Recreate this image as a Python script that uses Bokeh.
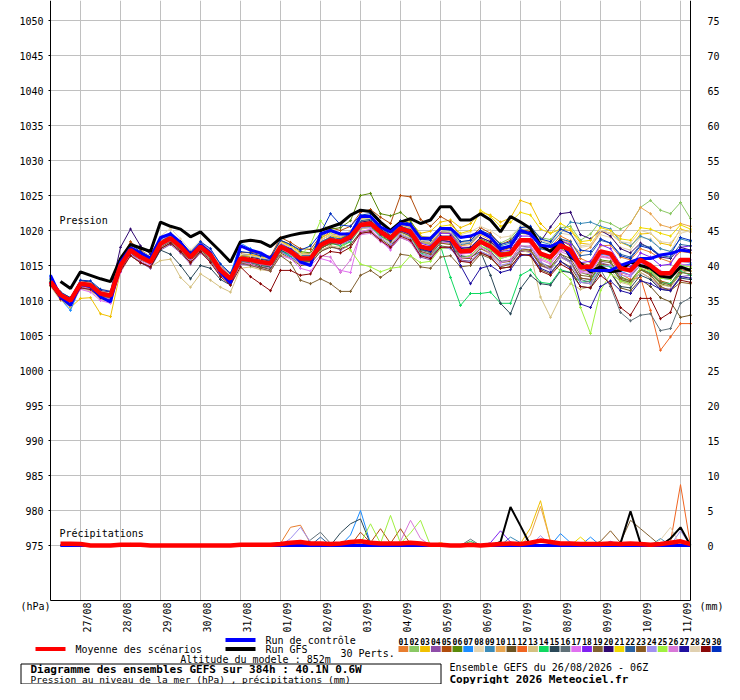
import math
from bokeh.plotting import figure
from bokeh.models import Range1d, LinearAxis, FixedTicker
from bokeh.layouts import column
from bokeh.embed import file_html
from bokeh.resources import INLINE
from bokeh.core.properties import value

NAN = float("nan")
MONO = "DejaVu Sans Mono"

# forecast hours (run 26/08/2026 06Z, step 6h, 0..384h)
hours = list(range(0, 385, 6))
date_hours = [18, 42, 66, 90, 114, 138, 162, 186, 210, 234, 258, 282, 306, 330, 354, 378]
date_labels = ["27/08", "28/08", "29/08", "30/08", "31/08", "01/09", "02/09", "03/09",
               "04/09", "05/09", "06/09", "07/09", "08/09", "09/09", "10/09", "11/09"]
hpa_ticks = [975, 980, 985, 990, 995, 1000, 1005, 1010, 1015, 1020, 1025, 1030, 1035, 1040, 1045, 1050]
mm_ticks = [0, 5, 10, 15, 20, 25, 30, 35, 40, 45, 50, 55, 60, 65, 70, 75]

pert_colors = ["#e87d2e", "#8ac864", "#f0c000", "#8e4ca8", "#b04c0c", "#5a8a0a", "#1a8cff", "#e6d5b0",
               "#3a8ab8", "#e8a550", "#6b5220", "#f06420", "#d4c080", "#10d860", "#2a4858", "#607078",
               "#e070f0", "#8020f0", "#806030", "#300870", "#f0d800", "#2a60a0", "#8a5a20", "#a090f0",
               "#a0f040", "#d878d8", "#2010a0", "#e0d0b0", "#8a0808", "#0030c0"]

# mean, control and GFS sea-level pressure (hPa)
mean_p = [1012.7, 1010.8, 1010.0, 1012.4, 1012.2, 1011.0, 1010.7, 1015.0,
          1017.2, 1016.2, 1015.5, 1018.1, 1018.9, 1017.7, 1016.2, 1017.7,
          1016.5, 1014.3, 1013.1, 1016.0, 1015.8, 1015.5, 1015.3, 1017.7,
          1017.0, 1016.0, 1016.0, 1017.9, 1018.6, 1018.4, 1019.1, 1020.8,
          1021.0, 1019.8, 1018.9, 1020.3, 1019.8, 1017.7, 1017.4, 1018.9,
          1018.9, 1017.0, 1017.1, 1018.4, 1017.7, 1016.5, 1016.7, 1018.6,
          1018.6, 1016.7, 1016.2, 1017.9, 1017.2, 1014.8, 1014.8, 1017.0,
          1016.7, 1014.6, 1014.3, 1015.8, 1015.0, 1013.9, 1013.9, 1015.8, 1015.8]
ctrl_p = [1013.6, 1010.5, 1009.3, 1012.3, 1012.0, 1010.5, 1009.8, 1015.5,
          1017.5, 1016.8, 1016.0, 1019.0, 1019.5, 1018.3, 1016.5, 1018.0,
          1016.8, 1014.0, 1012.5, 1017.8, 1017.2, 1016.8, 1016.0, 1017.5,
          1017.3, 1015.5, 1015.0, 1019.5, 1020.0, 1019.5, 1019.5, 1022.0,
          1022.0, 1020.5, 1019.8, 1021.0, 1020.8, 1018.9, 1018.9, 1020.3,
          1020.3, 1019.0, 1019.2, 1019.8, 1019.0, 1017.4, 1017.8, 1020.0,
          1019.5, 1017.9, 1017.7, 1018.4, 1016.5, 1015.0, 1014.3, 1014.3,
          1014.3, 1015.0, 1015.5, 1016.0, 1016.0, 1016.5, 1016.7, 1017.2, 1017.0]
gfs_p = [NAN, 1012.7, 1011.7, 1014.1, 1013.6, 1013.1, 1012.7, 1016.0,
         1018.0, 1017.5, 1017.0, 1021.2, 1020.6, 1020.2, 1019.1, 1019.8,
         1018.4, 1017.0, 1015.5, 1018.4, 1018.6, 1018.4, 1017.7, 1018.9,
         1019.3, 1019.6, 1019.8, 1020.0, 1020.5, 1021.0, 1022.2, 1022.9,
         1022.7, 1021.2, 1020.0, 1021.2, 1021.7, 1021.0, 1021.5, 1023.4,
         1023.4, 1021.5, 1021.5, 1022.4, 1021.5, 1019.8, 1022.0, 1021.2,
         1020.3, 1017.9, 1017.0, 1018.6, 1016.2, 1015.3, 1014.1, 1014.8,
         1014.1, 1014.3, 1015.5, 1015.0, 1014.6, 1013.5, 1013.3, 1014.8, 1014.3]

# 30 perturbations (hPa)
p01 = [1012.5, 1010.5, 1009.8, 1012.8, 1012.6, 1011.4, 1010.9, 1015.6,
       1017.8, 1016.6, 1015.9, 1018.5, 1019.2, 1018.0, 1016.8, 1018.0,
       1016.9, 1014.8, 1013.6, 1016.3, 1016.5, 1016.4, 1015.9, 1018.6,
       1017.6, 1016.5, 1016.3, 1018.8, 1019.9, 1019.4, 1019.8, 1021.6,
       1021.9, 1020.6, 1019.2, 1021.0, 1020.9, 1018.6, 1018.0, 1019.8,
       1019.5, 1017.8, 1018.3, 1019.6, 1018.9, 1017.0, 1017.5, 1019.8,
       1020.1, 1018.0, 1017.6, 1019.2, 1018.5, 1016.0, 1015.4, 1017.8,
       1017.9, 1016.2, 1015.8, 1017.4, 1016.9, 1016.0, 1015.5, 1017.0, 1016.8]
p02 = [1013.0, 1011.2, 1010.4, 1012.0, 1011.9, 1010.8, 1010.2, 1014.6,
       1016.8, 1015.8, 1015.3, 1017.9, 1018.4, 1017.4, 1015.8, 1017.2,
       1016.0, 1014.0, 1012.8, 1015.6, 1015.6, 1015.0, 1014.8, 1017.2,
       1016.6, 1015.6, 1015.8, 1017.6, 1018.0, 1018.3, 1019.0, 1020.2,
       1020.8, 1019.9, 1019.0, 1020.6, 1020.1, 1018.3, 1018.0, 1019.6,
       1019.8, 1018.4, 1018.6, 1020.0, 1019.2, 1018.2, 1018.9, 1020.6,
       1020.5, 1019.0, 1018.7, 1020.4, 1020.6, 1018.6, 1019.5, 1021.4,
       1021.0, 1020.2, 1021.0, 1023.3, 1024.3, 1022.9, 1022.4, 1024.0, 1021.7]
p03 = [1012.2, 1010.2, 1009.0, 1010.3, 1010.4, 1008.1, 1007.7, 1014.2,
       1017.0, 1016.4, 1015.2, 1018.2, 1019.3, 1018.4, 1016.6, 1018.2,
       1017.0, 1015.0, 1013.6, 1016.6, 1016.6, 1016.2, 1016.0, 1018.5,
       1017.8, 1016.8, 1016.7, 1018.9, 1019.6, 1019.2, 1019.9, 1021.7,
       1021.8, 1020.5, 1019.6, 1021.4, 1021.2, 1019.6, 1019.9, 1021.2,
       1021.5, 1020.4, 1021.0, 1022.6, 1022.2, 1021.2, 1021.8, 1024.3,
       1023.8, 1021.0, 1019.6, 1020.2, 1020.0, 1018.2, 1018.0, 1020.0,
       1019.6, 1018.3, 1017.7, 1019.5, 1019.6, 1018.2, 1017.9, 1020.2, 1019.8]
p04 = [1012.4, 1010.3, 1009.4, 1011.8, 1011.5, 1010.4, 1010.0, 1014.4,
       1016.6, 1015.4, 1014.6, 1017.2, 1018.0, 1016.8, 1015.2, 1016.8,
       1015.6, 1013.6, 1012.4, 1015.2, 1015.0, 1014.8, 1014.6, 1017.0,
       1016.2, 1015.2, 1015.4, 1017.0, 1017.8, 1017.2, 1018.0, 1019.6,
       1019.8, 1018.6, 1017.4, 1019.0, 1018.4, 1016.2, 1015.8, 1017.6,
       1017.4, 1015.8, 1015.6, 1017.0, 1016.4, 1015.0, 1015.2, 1017.0,
       1017.0, 1015.0, 1014.4, 1016.3, 1015.6, 1013.2, 1013.0, 1015.4,
       1015.0, 1012.8, 1012.4, 1014.0, 1013.2, 1011.8, 1011.6, 1013.4, 1013.6]
p05 = [1012.9, 1011.0, 1010.2, 1012.6, 1012.5, 1011.3, 1011.2, 1015.8,
       1018.4, 1017.2, 1016.3, 1018.8, 1019.4, 1018.2, 1016.9, 1018.3,
       1017.0, 1014.9, 1013.8, 1016.8, 1016.9, 1016.6, 1016.3, 1019.0,
       1018.3, 1017.4, 1017.3, 1019.2, 1020.4, 1020.0, 1020.6, 1022.6,
       1023.0, 1021.9, 1021.0, 1025.0, 1024.8, 1021.6, 1020.6, 1022.0,
       1021.2, 1019.2, 1019.0, 1020.4, 1019.6, 1018.0, 1018.6, 1020.2,
       1019.8, 1017.6, 1017.0, 1018.6, 1017.8, 1015.4, 1015.0, 1017.0,
       1016.4, 1014.0, 1013.6, 1015.0, 1014.2, 1012.8, 1012.4, 1014.4, 1014.2]
p06 = [1012.6, 1010.6, 1009.7, 1012.2, 1012.0, 1010.9, 1010.6, 1015.2,
       1017.4, 1016.4, 1015.8, 1018.4, 1019.0, 1017.8, 1016.4, 1017.9,
       1016.8, 1014.6, 1013.4, 1016.4, 1016.2, 1016.0, 1015.9, 1018.6,
       1018.0, 1017.0, 1016.8, 1019.0, 1020.2, 1020.4, 1021.4, 1025.0,
       1025.3, 1022.4, 1022.1, 1022.6, 1021.4, 1019.2, 1018.6, 1020.0,
       1019.8, 1017.6, 1017.4, 1018.8, 1018.2, 1016.8, 1017.0, 1018.8,
       1018.2, 1016.4, 1015.8, 1017.4, 1016.6, 1014.0, 1013.6, 1015.8,
       1015.6, 1013.4, 1012.8, 1014.4, 1013.8, 1012.4, 1012.0, 1013.8, 1014.6]
p07 = [1013.6, 1010.2, 1008.6, 1012.0, 1011.8, 1010.4, 1010.0, 1015.4,
       1017.6, 1016.8, 1016.2, 1018.7, 1019.4, 1018.3, 1016.7, 1018.4,
       1017.2, 1015.2, 1013.8, 1018.2, 1017.4, 1016.6, 1015.8, 1017.2,
       1016.2, 1015.4, 1015.6, 1018.2, 1018.8, 1018.8, 1019.8, 1021.4,
       1021.4, 1020.0, 1018.9, 1020.2, 1019.6, 1017.4, 1017.0, 1018.6,
       1018.8, 1016.8, 1016.8, 1018.2, 1017.2, 1016.0, 1016.4, 1018.4,
       1018.6, 1016.4, 1016.0, 1017.8, 1017.0, 1014.4, 1014.2, 1016.6,
       1016.4, 1014.2, 1013.6, 1015.4, 1014.8, 1013.2, 1013.0, 1015.0, 1015.2]
p08 = [1012.6, 1010.9, 1010.3, 1012.9, 1012.6, 1011.6, 1011.4, 1015.4,
       1017.6, 1017.0, 1016.4, 1019.2, 1020.3, 1018.8, 1017.2, 1018.6,
       1017.2, 1014.6, 1013.4, 1016.2, 1016.0, 1015.9, 1015.7, 1018.0,
       1017.2, 1016.4, 1016.6, 1018.4, 1019.0, 1018.8, 1019.4, 1021.0,
       1021.2, 1020.2, 1019.6, 1020.8, 1020.4, 1018.6, 1018.8, 1020.2,
       1020.4, 1019.4, 1019.8, 1020.6, 1020.0, 1019.0, 1019.2, 1020.6,
       1020.4, 1018.8, 1018.2, 1019.6, 1019.4, 1017.6, 1017.8, 1019.4,
       1019.0, 1017.6, 1017.2, 1019.0, 1018.8, 1017.4, 1017.0, 1019.6, 1020.0]
p09 = [1012.8, 1010.6, 1009.6, 1012.2, 1012.0, 1010.8, 1010.4, 1014.8,
       1017.0, 1016.0, 1015.4, 1017.8, 1018.6, 1017.4, 1015.8, 1017.4,
       1016.2, 1014.0, 1012.8, 1015.8, 1015.6, 1015.2, 1015.0, 1017.4,
       1016.8, 1015.8, 1015.8, 1017.8, 1018.6, 1018.6, 1019.2, 1021.0,
       1021.2, 1020.0, 1019.2, 1020.6, 1020.2, 1018.4, 1018.2, 1019.8,
       1019.8, 1018.0, 1018.2, 1019.6, 1019.0, 1017.8, 1018.2, 1020.0,
       1020.2, 1018.4, 1018.0, 1019.6, 1021.2, 1021.0, 1021.2, 1020.6,
       1020.2, 1018.4, 1017.8, 1019.2, 1018.6, 1017.4, 1017.0, 1018.8, 1018.4]
p10 = [1012.4, 1010.6, 1009.9, 1012.5, 1012.4, 1011.2, 1011.0, 1015.2,
       1017.4, 1016.2, 1015.6, 1018.2, 1019.0, 1017.9, 1016.4, 1017.8,
       1016.6, 1014.4, 1013.2, 1016.0, 1015.9, 1015.6, 1015.4, 1017.9,
       1017.2, 1016.2, 1016.2, 1018.2, 1019.2, 1019.0, 1019.6, 1021.2,
       1021.4, 1020.3, 1019.4, 1020.8, 1020.4, 1018.4, 1018.2, 1019.8,
       1019.6, 1017.8, 1018.0, 1019.4, 1018.6, 1017.2, 1017.6, 1019.6,
       1019.4, 1017.6, 1017.0, 1018.8, 1018.2, 1016.8, 1017.6, 1019.8,
       1019.6, 1019.2, 1021.0, 1023.3, 1022.4, 1020.8, 1020.4, 1021.0, 1020.6]
p11 = [1012.2, 1010.4, 1009.6, 1012.0, 1011.8, 1010.6, 1010.2, 1014.4,
       1016.4, 1015.4, 1014.8, 1017.4, 1018.2, 1017.0, 1015.4, 1017.0,
       1015.8, 1013.8, 1012.6, 1015.4, 1015.2, 1014.8, 1014.4, 1016.8,
       1016.0, 1015.0, 1015.2, 1017.0, 1017.6, 1017.4, 1018.0, 1019.8,
       1020.0, 1018.8, 1017.8, 1019.4, 1018.8, 1016.6, 1016.2, 1017.8,
       1017.6, 1015.6, 1015.6, 1017.0, 1016.2, 1014.6, 1014.8, 1016.6,
       1016.4, 1014.4, 1013.8, 1015.6, 1014.8, 1012.6, 1012.4, 1014.6,
       1014.0, 1011.8, 1011.4, 1013.0, 1012.0, 1010.4, 1009.8, 1007.6, 1007.9]
p12 = [1012.5, 1010.7, 1010.0, 1012.6, 1012.4, 1011.2, 1010.9, 1015.2,
       1017.4, 1016.3, 1015.6, 1018.3, 1019.0, 1017.8, 1016.3, 1017.8,
       1016.6, 1014.4, 1013.2, 1016.2, 1016.0, 1015.7, 1015.5, 1017.8,
       1017.2, 1016.2, 1016.2, 1018.0, 1018.8, 1018.6, 1019.2, 1021.0,
       1021.2, 1020.0, 1019.0, 1020.4, 1019.9, 1017.8, 1017.4, 1019.0,
       1019.0, 1017.2, 1017.2, 1018.6, 1017.8, 1016.6, 1016.8, 1018.6,
       1018.6, 1016.6, 1016.0, 1017.6, 1016.8, 1014.4, 1014.2, 1016.4,
       1016.0, 1013.8, 1013.0, 1013.3, 1008.6, 1002.9, 1004.8, 1006.7, 1006.7]
p13 = [1012.0, 1010.0, 1009.2, 1011.6, 1011.4, 1010.2, 1009.8, 1014.0,
       1016.4, 1015.6, 1014.8, 1015.7, 1015.9, 1013.3, 1011.9, 1013.8,
       1012.9, 1011.9, 1011.2, 1014.6, 1014.8, 1014.4, 1014.2, 1016.6,
       1016.0, 1015.2, 1015.4, 1017.2, 1017.8, 1017.6, 1018.4, 1020.2,
       1020.4, 1019.2, 1018.2, 1019.6, 1019.0, 1017.0, 1016.6, 1018.2,
       1018.0, 1016.2, 1016.0, 1017.4, 1016.6, 1015.0, 1015.2, 1017.2,
       1016.8, 1010.5, 1007.6, 1010.5, 1012.4, 1011.6, 1012.0, 1014.6,
       1014.4, 1012.6, 1012.2, 1014.0, 1013.2, 1012.2, 1012.0, 1014.0, 1014.2]
p14 = [1013.0, 1011.0, 1010.4, 1012.8, 1012.6, 1011.4, 1011.0, 1015.4,
       1017.4, 1016.4, 1015.6, 1018.2, 1019.0, 1017.8, 1016.2, 1017.6,
       1016.4, 1014.2, 1013.0, 1015.8, 1015.6, 1015.2, 1015.0, 1017.2,
       1016.4, 1015.6, 1015.6, 1017.4, 1018.2, 1017.8, 1018.4, 1020.4,
       1020.6, 1019.2, 1018.4, 1019.8, 1019.2, 1016.8, 1016.4, 1017.8,
       1013.3, 1009.3, 1011.0, 1011.0, 1011.2, 1009.6, 1009.6, 1013.6,
       1014.4, 1012.6, 1012.4, 1014.4, 1014.0, 1012.6, 1012.8, 1015.0,
       1014.8, 1013.0, 1012.6, 1014.4, 1014.0, 1012.6, 1012.4, 1014.2, 1013.6]
p15 = [1012.6, 1010.6, 1009.8, 1012.3, 1012.0, 1010.8, 1010.4, 1014.6,
       1016.8, 1015.4, 1014.8, 1017.2, 1016.6, 1015.0, 1013.1, 1015.0,
       1014.6, 1013.0, 1012.2, 1015.6, 1015.4, 1015.0, 1014.8, 1017.2,
       1016.6, 1015.4, 1015.6, 1017.4, 1018.2, 1018.0, 1018.6, 1020.6,
       1020.8, 1019.6, 1018.6, 1020.0, 1019.4, 1017.2, 1017.0, 1018.6,
       1018.4, 1016.4, 1016.2, 1017.0, 1013.6, 1009.6, 1008.1, 1011.7,
       1013.6, 1012.4, 1012.2, 1014.2, 1014.0, 1012.0, 1011.8, 1014.2,
       1014.0, 1012.0, 1011.8, 1013.6, 1013.0, 1011.6, 1011.4, 1013.2, 1013.0]
p16 = [1012.4, 1010.5, 1009.8, 1012.2, 1012.0, 1010.8, 1010.5, 1014.8,
       1017.0, 1016.0, 1015.3, 1017.8, 1018.6, 1017.4, 1015.9, 1017.4,
       1016.2, 1014.0, 1012.8, 1015.6, 1015.4, 1015.1, 1014.9, 1017.4,
       1016.8, 1015.8, 1015.8, 1017.6, 1018.4, 1018.2, 1018.8, 1020.6,
       1020.8, 1019.6, 1018.6, 1020.0, 1019.4, 1017.2, 1016.8, 1018.4,
       1018.2, 1016.2, 1016.4, 1017.8, 1017.0, 1015.6, 1015.8, 1017.8,
       1017.6, 1015.4, 1014.8, 1016.6, 1015.6, 1013.0, 1012.6, 1014.4,
       1012.0, 1008.3, 1007.1, 1007.9, 1008.1, 1005.7, 1006.0, 1009.6, 1010.4]
p17 = [1012.2, 1010.2, 1009.4, 1011.6, 1011.2, 1010.0, 1009.6, 1014.0,
       1016.6, 1015.6, 1015.0, 1017.6, 1018.4, 1017.2, 1015.6, 1017.2,
       1016.0, 1013.8, 1012.6, 1015.4, 1015.2, 1014.6, 1014.2, 1016.4,
       1016.0, 1014.6, 1014.2, 1016.0, 1015.6, 1014.3, 1014.0, 1019.8,
       1020.2, 1018.6, 1017.2, 1019.8, 1019.4, 1017.0, 1016.4, 1018.2,
       1018.4, 1016.6, 1016.8, 1018.2, 1017.4, 1016.0, 1016.4, 1018.4,
       1018.2, 1016.0, 1015.4, 1017.2, 1016.8, 1014.2, 1014.0, 1016.4,
       1016.2, 1014.0, 1013.6, 1015.4, 1014.6, 1013.4, 1013.2, 1015.2, 1015.0]
p18 = [1012.9, 1011.1, 1010.3, 1012.7, 1012.5, 1011.3, 1011.0, 1015.6,
       1017.8, 1016.8, 1016.0, 1018.6, 1019.4, 1018.2, 1016.7, 1018.2,
       1017.0, 1014.8, 1013.5, 1016.4, 1016.3, 1016.0, 1015.8, 1018.2,
       1017.4, 1016.6, 1016.6, 1018.6, 1019.4, 1019.2, 1019.8, 1021.8,
       1022.0, 1020.6, 1019.4, 1021.0, 1020.6, 1018.2, 1017.8, 1019.6,
       1019.6, 1017.6, 1017.6, 1019.0, 1018.4, 1017.0, 1017.2, 1019.2,
       1019.2, 1016.8, 1016.4, 1018.6, 1018.0, 1015.4, 1015.6, 1018.0,
       1017.4, 1015.2, 1014.8, 1016.8, 1016.2, 1015.0, 1015.2, 1017.6, 1017.8]
p19 = [1012.3, 1010.4, 1009.7, 1012.1, 1011.9, 1010.7, 1010.4, 1014.6,
       1016.8, 1015.8, 1015.2, 1017.6, 1018.4, 1017.2, 1015.7, 1017.2,
       1016.0, 1013.8, 1012.6, 1015.4, 1015.0, 1014.6, 1014.2, 1016.4,
       1015.4, 1012.9, 1012.4, 1013.1, 1012.4, 1011.3, 1011.3, 1013.6,
       1014.3, 1013.3, 1014.3, 1016.6, 1016.4, 1014.8, 1014.6, 1016.2,
       1016.4, 1014.8, 1015.0, 1016.6, 1016.0, 1014.8, 1015.2, 1017.2,
       1017.2, 1015.2, 1014.8, 1016.6, 1016.0, 1013.6, 1013.4, 1015.6,
       1015.4, 1013.2, 1012.8, 1014.6, 1013.8, 1012.6, 1012.2, 1014.0, 1013.8]
p20 = [1012.8, 1011.0, 1010.3, 1012.8, 1012.6, 1011.4, 1011.2, 1017.6,
       1020.2, 1017.8, 1016.6, 1019.0, 1019.6, 1018.4, 1016.8, 1018.2,
       1016.8, 1014.6, 1013.4, 1016.4, 1016.2, 1015.9, 1015.6, 1017.8,
       1017.0, 1016.0, 1016.2, 1018.2, 1019.0, 1018.8, 1019.4, 1021.2,
       1021.4, 1020.2, 1019.2, 1020.6, 1020.0, 1017.8, 1017.6, 1019.2,
       1019.2, 1017.4, 1017.6, 1019.0, 1018.4, 1017.2, 1017.6, 1019.6,
       1019.8, 1018.4, 1020.5, 1022.4, 1022.6, 1019.4, 1018.8, 1020.0,
       1019.2, 1017.4, 1016.8, 1018.2, 1017.4, 1016.2, 1016.0, 1017.6, 1017.2]
p21 = [1012.6, 1010.8, 1010.2, 1012.5, 1012.3, 1011.1, 1010.9, 1015.2,
       1017.5, 1016.5, 1015.8, 1018.4, 1019.2, 1018.0, 1016.5, 1018.0,
       1016.8, 1014.6, 1013.4, 1016.4, 1016.3, 1016.1, 1016.0, 1018.4,
       1017.6, 1016.6, 1016.5, 1018.6, 1019.4, 1019.0, 1019.6, 1021.4,
       1021.6, 1020.6, 1019.8, 1021.2, 1021.0, 1019.2, 1019.0, 1020.6,
       1020.8, 1019.6, 1020.0, 1022.9, 1022.0, 1020.6, 1021.2, 1022.6,
       1022.2, 1020.2, 1019.6, 1021.0, 1020.2, 1018.4, 1018.6, 1020.4,
       1020.0, 1018.8, 1018.6, 1020.4, 1020.2, 1019.6, 1019.2, 1020.8, 1020.2]
p22 = [1012.7, 1010.9, 1010.1, 1012.6, 1012.4, 1011.2, 1011.0, 1015.4,
       1017.6, 1016.6, 1015.9, 1018.5, 1019.2, 1018.0, 1016.4, 1018.0,
       1016.7, 1014.5, 1013.3, 1016.6, 1016.4, 1016.0, 1015.7, 1018.0,
       1017.4, 1016.4, 1016.4, 1018.4, 1019.0, 1018.8, 1019.6, 1021.4,
       1021.6, 1020.4, 1019.4, 1021.0, 1020.8, 1018.6, 1018.4, 1020.2,
       1020.0, 1018.2, 1018.4, 1020.0, 1019.2, 1017.6, 1017.8, 1019.6,
       1019.6, 1017.4, 1017.0, 1018.8, 1018.4, 1016.4, 1016.6, 1018.6,
       1018.2, 1016.6, 1016.2, 1018.0, 1017.6, 1016.4, 1016.2, 1018.0, 1017.8]
p23 = [1012.4, 1010.5, 1009.6, 1012.0, 1011.8, 1010.7, 1010.5, 1014.8,
       1017.2, 1016.2, 1015.4, 1018.0, 1018.7, 1017.6, 1016.0, 1017.6,
       1016.4, 1014.2, 1013.0, 1015.9, 1015.6, 1015.4, 1015.1, 1017.4,
       1016.6, 1015.6, 1015.6, 1017.4, 1018.2, 1018.0, 1018.6, 1020.4,
       1020.6, 1019.4, 1018.4, 1019.8, 1019.2, 1017.0, 1016.6, 1018.2,
       1018.0, 1016.0, 1016.0, 1017.4, 1016.8, 1015.4, 1015.6, 1017.4,
       1017.2, 1015.0, 1014.6, 1016.2, 1015.4, 1013.2, 1013.0, 1015.2,
       1015.0, 1013.0, 1012.6, 1014.4, 1013.6, 1012.0, 1011.4, 1012.6, 1012.4]
p24 = [1012.5, 1010.6, 1009.9, 1012.4, 1012.2, 1011.0, 1010.7, 1015.0,
       1017.2, 1016.2, 1015.5, 1018.1, 1018.9, 1017.7, 1016.2, 1017.7,
       1016.5, 1014.3, 1013.1, 1016.0, 1015.8, 1015.5, 1015.3, 1017.7,
       1017.0, 1016.0, 1016.0, 1017.8, 1018.4, 1018.0, 1018.6, 1020.4,
       1020.4, 1019.0, 1018.0, 1019.4, 1018.8, 1016.6, 1016.2, 1017.6,
       1017.4, 1015.6, 1015.6, 1017.0, 1016.4, 1015.0, 1015.4, 1017.4,
       1017.6, 1015.6, 1014.4, 1016.2, 1015.4, 1012.6, 1012.4, 1014.8,
       1015.0, 1013.6, 1013.4, 1015.0, 1014.8, 1013.8, 1013.6, 1015.6, 1015.4]
p25 = [1012.8, 1010.9, 1010.2, 1012.6, 1012.4, 1011.2, 1010.9, 1015.2,
       1017.4, 1016.4, 1015.7, 1018.3, 1019.1, 1017.9, 1016.4, 1017.9,
       1016.7, 1014.5, 1013.3, 1016.2, 1016.0, 1015.7, 1015.5, 1017.4,
       1017.0, 1016.4, 1018.0, 1021.4, 1019.6, 1018.2, 1017.2, 1015.2,
       1014.8, 1014.1, 1014.6, 1014.8, 1016.4, 1015.4, 1015.6, 1017.4,
       1017.6, 1016.0, 1016.4, 1017.8, 1017.2, 1016.0, 1016.4, 1018.4,
       1018.4, 1016.2, 1015.6, 1014.2, 1013.0, 1009.0, 1005.3, 1011.4,
       1013.8, 1012.8, 1012.4, 1014.6, 1014.2, 1013.2, 1013.0, 1015.0, 1014.8]
p26 = [1012.3, 1010.4, 1009.6, 1012.0, 1011.7, 1010.5, 1010.2, 1014.6,
       1016.9, 1015.9, 1015.2, 1017.8, 1018.6, 1017.4, 1015.9, 1017.4,
       1016.2, 1014.0, 1012.9, 1015.8, 1015.6, 1015.2, 1015.0, 1017.4,
       1016.6, 1015.2, 1015.0, 1016.4, 1016.2, 1014.0, 1015.8, 1019.4,
       1019.6, 1018.4, 1017.6, 1019.0, 1018.4, 1016.4, 1016.0, 1017.6,
       1017.6, 1016.0, 1016.2, 1017.6, 1016.8, 1015.4, 1015.8, 1017.8,
       1017.8, 1015.8, 1015.2, 1017.0, 1016.4, 1014.0, 1013.8, 1016.2,
       1016.0, 1014.4, 1014.0, 1015.8, 1015.2, 1014.2, 1014.0, 1016.0, 1015.8]
p27 = [1012.6, 1010.7, 1009.9, 1012.4, 1012.2, 1011.0, 1010.6, 1015.0,
       1017.2, 1016.2, 1015.4, 1018.0, 1018.8, 1017.6, 1016.1, 1017.6,
       1016.4, 1014.2, 1013.0, 1015.9, 1015.7, 1015.4, 1015.2, 1017.6,
       1016.8, 1015.8, 1015.8, 1017.8, 1018.4, 1018.2, 1018.8, 1020.6,
       1020.8, 1019.6, 1018.6, 1020.0, 1019.4, 1017.4, 1017.0, 1018.6,
       1018.4, 1015.0, 1012.4, 1014.6, 1015.0, 1014.0, 1014.4, 1016.4,
       1016.6, 1014.6, 1014.0, 1015.6, 1014.6, 1009.5, 1009.0, 1012.0,
       1012.8, 1011.4, 1011.0, 1012.8, 1012.4, 1011.6, 1011.4, 1013.4, 1013.2]
p28 = [1012.9, 1011.0, 1010.3, 1012.7, 1012.5, 1011.3, 1011.1, 1015.4,
       1017.6, 1016.6, 1015.9, 1018.6, 1019.5, 1018.3, 1016.8, 1018.3,
       1017.1, 1014.9, 1013.6, 1016.6, 1016.4, 1016.1, 1015.9, 1018.3,
       1017.6, 1016.6, 1016.6, 1018.6, 1019.4, 1019.2, 1019.8, 1021.6,
       1021.8, 1020.6, 1019.6, 1021.0, 1020.6, 1018.6, 1018.4, 1020.0,
       1019.8, 1018.2, 1018.4, 1019.8, 1019.2, 1018.0, 1018.4, 1020.2,
       1020.2, 1018.6, 1018.2, 1020.0, 1019.6, 1017.8, 1018.0, 1020.0,
       1019.6, 1018.4, 1018.2, 1020.0, 1019.6, 1018.4, 1018.2, 1020.0, 1019.8]
p29 = [1012.2, 1010.2, 1009.4, 1011.8, 1011.6, 1010.4, 1010.0, 1014.2,
       1016.4, 1015.4, 1014.8, 1017.4, 1018.2, 1017.0, 1015.4, 1017.0,
       1015.4, 1013.4, 1012.2, 1014.8, 1013.4, 1012.4, 1011.4, 1014.3,
       1014.3, 1013.6, 1013.8, 1016.2, 1017.0, 1016.8, 1017.6, 1019.6,
       1019.8, 1018.6, 1017.6, 1019.2, 1018.6, 1016.4, 1016.0, 1017.6,
       1017.6, 1015.6, 1015.4, 1016.8, 1016.2, 1014.6, 1014.8, 1016.6,
       1016.4, 1014.2, 1013.6, 1015.2, 1014.4, 1012.0, 1011.8, 1013.6,
       1012.4, 1009.0, 1007.9, 1010.3, 1010.3, 1007.4, 1008.3, 1012.9, 1012.6]
p30 = [1013.2, 1011.2, 1010.4, 1012.9, 1012.8, 1011.6, 1011.3, 1015.8,
       1018.0, 1017.0, 1016.2, 1018.8, 1019.6, 1018.4, 1016.9, 1018.4,
       1017.4, 1015.2, 1013.9, 1017.0, 1016.8, 1016.4, 1016.2, 1018.6,
       1018.0, 1017.2, 1017.8, 1019.6, 1022.4, 1020.8, 1020.6, 1022.2,
       1022.4, 1021.0, 1019.8, 1021.4, 1021.0, 1018.8, 1018.6, 1020.4,
       1020.2, 1018.4, 1018.6, 1020.0, 1019.4, 1018.0, 1018.4, 1020.4,
       1020.6, 1018.8, 1018.4, 1020.2, 1019.6, 1017.2, 1017.0, 1018.8,
       1018.2, 1016.4, 1016.0, 1017.8, 1017.4, 1016.4, 1016.6, 1019.0, 1018.6]

# 6-hourly precipitation (mm), only non-zero steps, keyed by forecast hour
r01 = {138: 0.3, 144: 2.6, 150: 2.9, 156: 0.3}
r02 = {}
r03 = {282: 0.3, 288: 2.5, 294: 6.4, 300: 0.5}
r04 = {}
r05 = {186: 1.9, 192: 0.4, 198: 2.4, 204: 0.3, 210: 2.4, 216: 0.2}
r06 = {48: 0.3}
r07 = {18: 0.4, 180: 1.5, 186: 5.0, 192: 0.3, 306: 1.7, 312: 0.4, 324: 1.2}
r08 = {}
r09 = {276: 1.2, 282: 0.4, 366: 1.0}
r10 = {288: 1.5, 294: 5.6, 300: 0.6}
r11 = {}
r12 = {372: 0.5, 378: 8.7}
r13 = {}
r14 = {252: 0.6}
r15 = {174: 1.8, 180: 3.1, 186: 3.8, 192: 0.2}
r16 = {156: 0.8, 162: 1.9, 168: 0.3, 252: 0.9}
r17 = {}
r18 = {264: 0.4, 270: 2.1, 276: 0.5, 336: 0.6}
r19 = {342: 0.5, 348: 3.6, 354: 2.4, 360: 1.2}
r20 = {}
r21 = {234: 0.4, 318: 1.2}
r22 = {162: 1.2}
r23 = {330: 0.6, 336: 2.1, 342: 0.4}
r24 = {144: 1.0, 150: 2.6, 156: 0.5, 294: 1.4, 378: 2.1}
r25 = {186: 0.3, 192: 3.1, 198: 0.3, 204: 4.3, 210: 0.3, 216: 1.8, 222: 3.6}
r26 = {210: 0.6, 216: 3.6, 222: 1.0}
r27 = {}
r28 = {366: 0.8, 372: 2.6}
r29 = {}
r30 = {}
ctrl_r = {}
gfs_r = {270: 0.5, 276: 5.5, 282: 2.8, 342: 0.3, 348: 4.9, 354: 0.3, 372: 1.0, 378: 2.6}
mean_r = [0.25, 0.25, 0.2, 0.0, 0.0, 0.0, 0.1, 0.1,
          0.1, 0.0, 0.0, 0.0, 0.0, 0.0, 0.0, 0.0,
          0.0, 0.0, 0.1, 0.1, 0.1, 0.1, 0.2, 0.4,
          0.5, 0.3, 0.3, 0.2, 0.3, 0.5, 0.6, 0.4,
          0.3, 0.3, 0.3, 0.4, 0.3, 0.1, 0.1, 0.0,
          0.0, 0.1, 0.0, 0.1, 0.2, 0.3, 0.2, 0.4,
          0.7, 0.5, 0.3, 0.3, 0.2, 0.2, 0.2, 0.3,
          0.2, 0.3, 0.2, 0.1, 0.2, 0.4, 0.6, 0.2]

pert_p = [p01, p02, p03, p04, p05, p06, p07, p08, p09, p10, p11, p12, p13, p14, p15,
          p16, p17, p18, p19, p20, p21, p22, p23, p24, p25, p26, p27, p28, p29, p30]
pert_r = [r01, r02, r03, r04, r05, r06, r07, r08, r09, r10, r11, r12, r13, r14, r15,
          r16, r17, r18, r19, r20, r21, r22, r23, r24, r25, r26, r27, r28, r29, r30]
rain_hours = hours[1:]


def rain_series(d):
    return [d.get(h, 0.0) for h in rain_hours]


# ---------------- main chart ----------------
# scales: 640 px for 384 h (0.6 h/px), 7 px per hPa; the frame fills the canvas and
# the axes are pinned at the chart edges so the outer labels can be drawn too.
W, H = 724, 633
H_PER_PX = 0.6
X_LEFT = -50 * H_PER_PX
X_RIGHT = 384 + (W - 690) * H_PER_PX
Y_TOP = 1050 + 20 / 7.0
Y_LO = 1050 - 580 / 7.0
Y_BOT = Y_TOP - H / 7.0

p = figure(width=W, height=H, x_range=Range1d(X_LEFT, X_RIGHT), y_range=Range1d(Y_BOT, Y_TOP),
           output_backend="svg", toolbar_location=None,
           x_axis_location=None, y_axis_location=None, min_border=0,
           background_fill_color="white", border_fill_color="white")
p.outline_line_color = None
p.grid.visible = False
p.extra_y_ranges = {"mm": Range1d(Y_BOT - 975, Y_TOP - 975)}

# grid lines at the axis ticks, limited to the chart area
p.segment(x0=date_hours, y0=[Y_LO] * len(date_hours), x1=date_hours, y1=[Y_TOP] * len(date_hours),
          line_color="#c0c0c0", line_width=1)
p.segment(x0=[0] * len(hpa_ticks), y0=hpa_ticks, x1=[384] * len(hpa_ticks), y1=hpa_ticks,
          line_color="#c0c0c0", line_width=1)

ya = LinearAxis(fixed_location=0, bounds=(Y_LO, Y_TOP), ticker=FixedTicker(ticks=hpa_ticks))
ra = LinearAxis(y_range_name="mm", fixed_location=384, bounds=(Y_LO - 975, Y_TOP - 975),
                ticker=FixedTicker(ticks=mm_ticks))
label_ticks = [h + 4 for h in date_hours]
xa = LinearAxis(fixed_location=Y_LO, bounds=(0, 384), ticker=FixedTicker(ticks=label_ticks))
xa.major_label_overrides = {t: lab for t, lab in zip(label_ticks, date_labels)}
xa.major_label_orientation = math.pi / 2
xa.major_label_standoff = 2
xa.major_tick_out = 0
xa.major_tick_in = 0

for ax in (ya, ra, xa):
    ax.axis_line_color = "black"
    ax.axis_line_width = 1
    ax.minor_tick_line_color = None
    ax.major_label_text_font = MONO
    ax.major_label_text_font_size = "10px"
    ax.major_label_text_color = "black"
    ax.major_tick_line_color = "black"
ya.major_tick_out = 2
ya.major_tick_in = 0
ya.major_label_standoff = 5
ra.major_tick_out = 0
ra.major_tick_in = 0
ra.major_label_standoff = 17

for series, rain, col in zip(pert_p, pert_r, pert_colors):
    p.line(hours, series, line_color=col, line_width=1)
    p.scatter(hours, series, marker="cross", size=3, line_color=col, line_width=1)
    p.line(rain_hours, rain_series(rain), line_color=col, line_width=1, y_range_name="mm")

p.line(hours, gfs_p, line_color="black", line_width=3)
p.line(rain_hours, rain_series(gfs_r), line_color="black", line_width=2, y_range_name="mm")
p.line(hours, ctrl_p, line_color="#0000ff", line_width=3)
p.line(rain_hours, rain_series(ctrl_r), line_color="#0000ff", line_width=3, y_range_name="mm")
p.line(hours, mean_p, line_color="#ff0000", line_width=4.5)
p.line(rain_hours, mean_r, line_color="#ff0000", line_width=4.5, y_range_name="mm")

p.add_layout(ya, "left")
p.add_layout(ra, "right")
p.add_layout(xa, "below")


def ptxt(x, y, s):
    p.text(x=[x], y=[y], text=[s], text_font=value(MONO), text_font_size="10px",
           text_baseline="middle", text_align="left", text_color="black")


ptxt(5.4, 1021.4, "Pression")
ptxt(5.4, 976.7, "Précipitations")
ptxt(X_LEFT + 20 * H_PER_PX, Y_TOP - 606 / 7.0, "(hPa)")
ptxt(X_LEFT + 699 * H_PER_PX, Y_TOP - 606 / 7.0, "(mm)")

# ---------------- legend / footer ----------------
q = figure(width=724, height=51, x_range=Range1d(0, 724), y_range=Range1d(684, 633),
           output_backend="svg", toolbar_location=None, min_border=0,
           x_axis_location=None, y_axis_location=None,
           background_fill_color="white", border_fill_color="white")
q.outline_line_color = None
q.grid.visible = False


def txt(x, y, s, size="10px", bold=False, align="left"):
    q.text(x=[x], y=[y], text=[s], text_font=value(MONO), text_font_size=size,
           text_font_style="bold" if bold else "normal", text_baseline="middle",
           text_align=align, text_color="black")


q.segment(x0=[35], y0=[648.5], x1=[65], y1=[648.5], line_color="#ff0000", line_width=4)
txt(75, 649, "Moyenne des scénarios")
q.segment(x0=[225], y0=[639.5], x1=[255], y1=[639.5], line_color="#0000ff", line_width=4)
txt(265, 639.5, "Run de contrôle")
q.segment(x0=[225], y0=[648.5], x1=[255], y1=[648.5], line_color="black", line_width=4)
txt(265, 648.5, "Run GFS")
txt(340, 652.5, "30 Perts.")
txt(255, 658.5, "Altitude du modele : 852m", align="center")

pitch = 10.8
for k, col in enumerate(pert_colors):
    x0 = 398 + pitch * k
    q.quad(left=[x0], right=[x0 + 9.8], top=[645.5], bottom=[651.5], fill_color=col, line_color=None)
    txt(x0 + 4.9, 640.5, "%02d" % (k + 1), size="8px", bold=True, align="center")

q.quad(left=[20.5], right=[440.5], top=[663.5], bottom=[683.5], fill_color=None,
       line_color="black", line_width=1)
txt(30, 669, "Diagramme des ensembles GEFS sur 384h : 40.1N 0.6W", size="11px", bold=True)
txt(30, 678.5, "Pression au niveau de la mer (hPa) , précipitations (mm)", size="9.5px")
txt(449, 667, "Ensemble GEFS du 26/08/2026 - 06Z")
txt(449, 678.5, "Copyright 2026 Meteociel.fr", size="11px", bold=True)

layout = column(p, q)
open("out.html", "w").write(file_html(layout, INLINE))
